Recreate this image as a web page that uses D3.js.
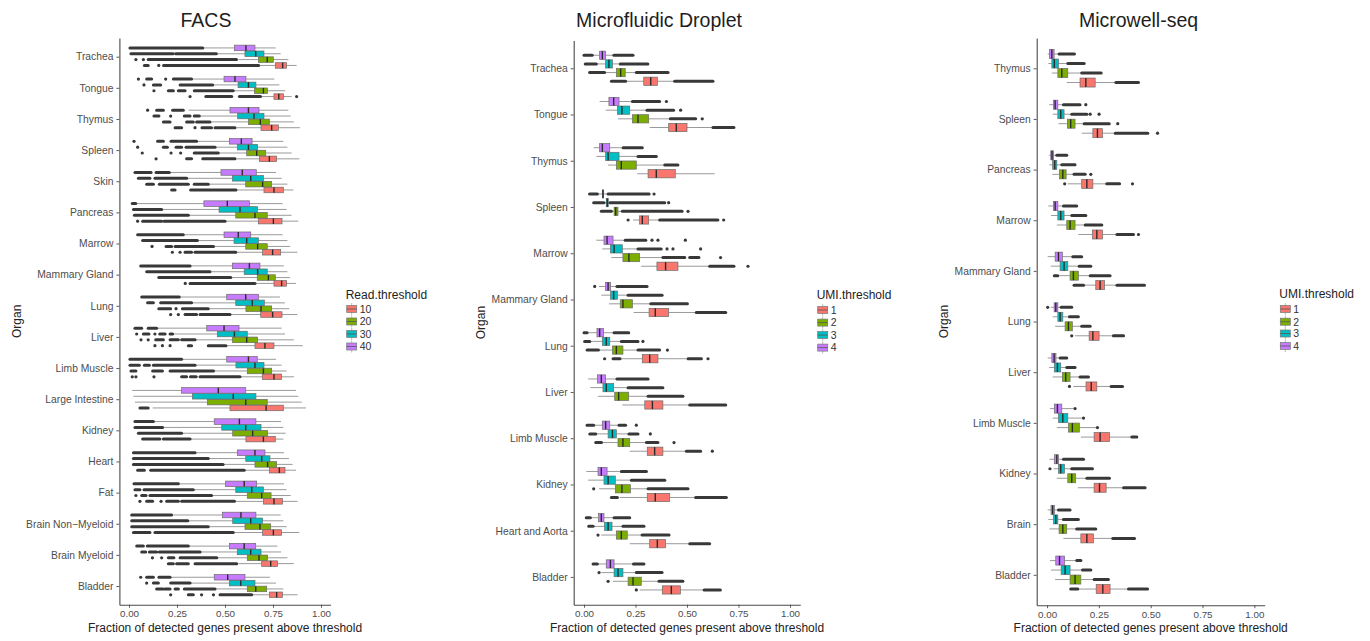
<!DOCTYPE html>
<html><head><meta charset="utf-8">
<script src="https://cdn.jsdelivr.net/npm/d3@7"></script>
<style>body{margin:0;background:#fff}svg{display:block}text{font-family:"Liberation Sans",Arial,sans-serif}</style>
</head><body><svg id="c" width="1370" height="641"></svg>
<script>
// ---------------- DATA ----------------
const xTicks = [0, 0.25, 0.5, 0.75, 1];
const xTitle = "Fraction of detected genes present above threshold";
const yTitle = "Organ";

// ===== FACS (organs top to bottom) =====
const facsOrgans = ["Trachea","Tongue","Thymus","Spleen","Skin","Pancreas","Marrow","Mammary Gland","Lung","Liver","Limb Muscle","Large Intestine","Kidney","Heart","Fat","Brain Non\u2212Myeloid","Brain Myeloid","Bladder"];
const readThresholds = ["10","20","30","40"];
// box stats: [lower whisker, q1, median, q3, upper whisker]
const facs10 = [[0.68,0.762,0.80,0.821,0.873],[0.69,0.755,0.78,0.804,0.847],[0.56,0.6875,0.743,0.778,0.89],[0.56,0.679,0.731,0.769,0.887],[0.56,0.703,0.755,0.804,0.856],[0.50,0.674,0.752,0.797,0.882],[0.56,0.696,0.748,0.79,0.877],[0.66,0.755,0.795,0.821,0.87],[0.53,0.686,0.748,0.797,0.877],[0.51,0.656,0.708,0.755,0.905],[0.58,0.694,0.755,0.795,0.859],[0.123,0.526,0.714,0.804,0.922],[0.32,0.609,0.70,0.762,0.804],[0.60,0.731,0.783,0.8125,0.87],[0.55,0.70,0.755,0.80,0.878],[0.55,0.696,0.752,0.795,0.887],[0.57,0.691,0.738,0.774,0.859],[0.64,0.731,0.769,0.80,0.878]];
const facs20 = [[0.57,0.674,0.72,0.752,0.83],[0.55,0.653,0.70,0.722,0.814],[0.43,0.622,0.684,0.731,0.859],[0.47,0.613,0.665,0.712,0.847],[0.42,0.608,0.696,0.743,0.825],[0.31,0.556,0.656,0.72,0.847],[0.44,0.608,0.67,0.72,0.839],[0.53,0.668,0.726,0.762,0.839],[0.42,0.609,0.6875,0.743,0.835],[0.35,0.538,0.613,0.67,0.859],[0.44,0.616,0.70,0.743,0.821],[0.031,0.408,0.608,0.72,0.90],[0.28,0.54,0.644,0.722,0.816],[0.49,0.656,0.722,0.769,0.852],[0.43,0.616,0.691,0.74,0.842],[0.42,0.604,0.682,0.738,0.821],[0.46,0.616,0.677,0.722,0.825],[0.45,0.616,0.66,0.717,0.804]];
const facs30 = [[0.46,0.604,0.66,0.703,0.79],[0.44,0.568,0.622,0.661,0.783],[0.37,0.566,0.651,0.703,0.842],[0.45,0.564,0.622,0.67,0.825],[0.30,0.538,0.634,0.70,0.795],[0.17,0.469,0.578,0.67,0.821],[0.36,0.547,0.613,0.674,0.825],[0.43,0.60,0.67,0.72,0.825],[0.33,0.556,0.642,0.705,0.8125],[0.23,0.46,0.549,0.616,0.8125],[0.35,0.557,0.656,0.703,0.795],[0.023,0.33,0.543,0.661,0.882],[0.18,0.483,0.608,0.6875,0.804],[0.42,0.608,0.691,0.734,0.833],[0.34,0.556,0.639,0.70,0.821],[0.31,0.54,0.634,0.696,0.804],[0.37,0.564,0.634,0.6875,0.792],[0.32,0.523,0.582,0.656,0.766]];
const facs40 = [[0.39,0.549,0.609,0.656,0.764],[0.33,0.495,0.552,0.609,0.757],[0.31,0.526,0.622,0.677,0.83],[0.36,0.523,0.585,0.641,0.804],[0.21,0.479,0.59,0.663,0.766],[0.04,0.39,0.512,0.627,0.80],[0.29,0.495,0.569,0.634,0.80],[0.32,0.538,0.627,0.682,0.807],[0.27,0.509,0.608,0.674,0.786],[0.15,0.405,0.495,0.573,0.795],[0.28,0.509,0.622,0.668,0.766],[0.017,0.274,0.465,0.608,0.87],[0.13,0.444,0.575,0.661,0.792],[0.35,0.564,0.656,0.708,0.807],[0.26,0.503,0.60,0.665,0.807],[0.23,0.486,0.583,0.661,0.79],[0.31,0.523,0.60,0.66,0.773],[0.22,0.444,0.514,0.604,0.734]];
// outliers: runs of dots [from, to] (a single dot has from == to)
const facsOut10 = [[[0.08,0.10],[0.155,0.155],[0.18,0.675]],[[0.318,0.318],[0.40,0.535],[0.575,0.685],[0.873,0.873]],[[0.24,0.274],[0.344,0.344],[0.38,0.43],[0.448,0.552]],[[0.141,0.141],[0.30,0.326],[0.384,0.552]],[[0.222,0.24],[0.321,0.557]],[[0.045,0.045],[0.071,0.17],[0.182,0.50]],[[0.226,0.226],[0.266,0.266],[0.292,0.326],[0.344,0.556]],[[0.293,0.293],[0.318,0.656]],[[0.217,0.217],[0.257,0.257],[0.292,0.352],[0.37,0.526]],[[0.135,0.135],[0.174,0.174],[0.214,0.214],[0.309,0.326],[0.413,0.505]],[[0.017,0.017],[0.036,0.036],[0.13,0.13],[0.274,0.30],[0.32,0.35],[0.37,0.578]],[[0.057,0.10]],[[0.071,0.161],[0.179,0.318]],[[0.045,0.08],[0.113,0.60]],[[0.057,0.057],[0.092,0.123],[0.167,0.167],[0.196,0.257],[0.274,0.549]],[[0.023,0.109],[0.135,0.543]],[[0.205,0.231],[0.248,0.309],[0.344,0.561]],[[0.217,0.217],[0.309,0.335],[0.378,0.378],[0.44,0.44],[0.474,0.639]]];
const facsOut20 = [[[0.036,0.036],[0.075,0.075],[0.10,0.56]],[[0.13,0.13],[0.205,0.231],[0.257,0.292],[0.34,0.543]],[[0.179,0.214],[0.30,0.335],[0.352,0.422]],[[0.069,0.069],[0.219,0.219],[0.269,0.269],[0.34,0.465]],[[0.092,0.127],[0.158,0.309],[0.34,0.413]],[[0.028,0.309]],[[0.12,0.12],[0.193,0.222],[0.24,0.44]],[[0.155,0.53]],[[0.155,0.217],[0.245,0.245],[0.278,0.413]],[[0.0625,0.0625],[0.10,0.10],[0.139,0.179],[0.214,0.257],[0.274,0.344]],[[0.01,0.036],[0.123,0.174],[0.214,0.44]],[],[[0.049,0.274]],[[0.023,0.49]],[[0.036,0.036],[0.066,0.089],[0.109,0.43]],[[0.014,0.413]],[[0.122,0.122],[0.17,0.17],[0.205,0.234],[0.266,0.457]],[[0.144,0.179],[0.188,0.214],[0.24,0.257],[0.288,0.448]]];
const facsOut30 = [[[0.01,0.23],[0.243,0.455]],[[0.078,0.078],[0.127,0.165],[0.266,0.436]],[[0.13,0.156],[0.217,0.217],[0.288,0.318],[0.34,0.366]],[[0.045,0.045],[0.179,0.2],[0.245,0.274],[0.297,0.448]],[[0.049,0.109],[0.135,0.30]],[[0.023,0.17]],[[0.071,0.356]],[[0.092,0.422]],[[0.097,0.127],[0.165,0.326]],[[0.04,0.04],[0.075,0.104],[0.135,0.135],[0.16,0.188],[0.214,0.227]],[[0.005,0.054],[0.08,0.106],[0.127,0.344]],[],[[0.031,0.175]],[[0.023,0.413]],[[0.031,0.057],[0.078,0.335]],[[0.014,0.306]],[[0.066,0.087],[0.106,0.144],[0.158,0.37]],[[0.092,0.092],[0.127,0.153],[0.217,0.318]]];
const facsOut40 = [[[0.005,0.384]],[[0.049,0.049],[0.092,0.118],[0.191,0.191],[0.231,0.326]],[[0.097,0.097],[0.144,0.179],[0.227,0.283]],[[0.026,0.026],[0.149,0.179],[0.219,0.352]],[[0.031,0.115],[0.141,0.21]],[[0.017,0.035]],[[0.045,0.283]],[[0.061,0.318]],[[0.066,0.262]],[[0.031,0.066],[0.10,0.144]],[[0.005,0.274]],[],[[0.031,0.127]],[[0.023,0.344]],[[0.026,0.257]],[[0.014,0.222]],[[0.04,0.075],[0.095,0.309]],[[0.061,0.061],[0.092,0.127],[0.156,0.214]]];

// ===== Microfluidic Droplet =====
const dropOrgans = ["Trachea","Tongue","Thymus","Spleen","Marrow","Mammary Gland","Lung","Liver","Limb Muscle","Kidney","Heart and Aorta","Bladder"];
const umiThresholds = ["1","2","3","4"];
const drop1 = [[0.205,0.29,0.324,0.356,0.44],[0.319,0.411,0.448,0.50,0.623],[0.259,0.311,0.351,0.443,0.634],[0.238,0.27,0.283,0.314,0.36],[0.278,0.354,0.396,0.456,0.607],[0.241,0.316,0.346,0.411,0.545],[0.181,0.283,0.319,0.359,0.497],[0.186,0.295,0.332,0.383,0.513],[0.222,0.307,0.343,0.383,0.494],[0.173,0.307,0.346,0.416,0.537],[0.222,0.319,0.356,0.396,0.505],[0.27,0.38,0.424,0.468,0.578]];
const drop2 = [[0.105,0.157,0.178,0.20,0.25],[0.165,0.235,0.262,0.314,0.416],[0.117,0.157,0.181,0.254,0.392],[0.135,0.146,0.154,0.165,0.18],[0.133,0.189,0.218,0.27,0.383],[0.121,0.176,0.189,0.235,0.324],[0.073,0.138,0.157,0.189,0.262],[0.068,0.149,0.168,0.217,0.311],[0.089,0.165,0.189,0.222,0.303],[0.073,0.152,0.184,0.225,0.311],[0.084,0.157,0.181,0.21,0.278],[0.14,0.214,0.238,0.278,0.359]];
const drop3 = [[0.065,0.105,0.121,0.138,0.17],[0.105,0.162,0.184,0.222,0.303],[0.06,0.105,0.117,0.17,0.262],[0.10,0.108,0.113,0.118,0.122],[0.089,0.128,0.146,0.186,0.262],[0.084,0.129,0.144,0.162,0.214],[0.031,0.089,0.108,0.125,0.181],[0.031,0.092,0.108,0.144,0.214],[0.06,0.117,0.138,0.157,0.218],[0.02,0.097,0.117,0.152,0.23],[0.047,0.10,0.117,0.136,0.186],[0.084,0.146,0.165,0.189,0.254]];
const drop4 = [[0.045,0.076,0.089,0.105,0.14],[0.076,0.121,0.144,0.17,0.23],[0.047,0.076,0.089,0.125,0.186],[0.068,0.089,0.092,0.095,0.112],[0.06,0.097,0.112,0.141,0.197],[0.073,0.105,0.117,0.129,0.157],[0.02,0.063,0.076,0.095,0.141],[0.02,0.065,0.084,0.105,0.157],[0.052,0.089,0.105,0.125,0.165],[0.011,0.068,0.084,0.112,0.173],[0.036,0.071,0.084,0.097,0.141],[0.068,0.108,0.128,0.146,0.235]];
const dropOut1 = [[[0.133,0.202],[0.44,0.626]],[[0.626,0.728]],[],[[0.214,0.214],[0.367,0.65],[0.678,0.678]],[[0.61,0.728],[0.796,0.796]],[[0.545,0.688]],[[0.10,0.10],[0.141,0.175],[0.505,0.57],[0.602,0.602]],[[0.513,0.688]],[[0.497,0.566],[0.623,0.623]],[[0.133,0.162],[0.542,0.691]],[[0.513,0.61]],[[0.254,0.254],[0.583,0.662]]];
const dropOut2 = [[[0.027,0.10],[0.254,0.408]],[[0.419,0.542],[0.574,0.574]],[[0.392,0.456]],[[0.084,0.133],[0.186,0.476],[0.505,0.505]],[[0.383,0.489],[0.513,0.558],[0.663,0.663]],[[0.324,0.502]],[[0.015,0.07],[0.262,0.367],[0.405,0.405]],[[0.311,0.48]],[[0.057,0.085],[0.303,0.359],[0.437,0.437]],[[0.047,0.047],[0.311,0.505]],[[0.068,0.068],[0.282,0.413]],[[0.117,0.117],[0.364,0.48]]];
const dropOut3 = [[[0.006,0.06],[0.176,0.31]],[[0.306,0.435],[0.469,0.469]],[[0.262,0.351]],[[0.047,0.097],[0.125,0.392],[0.411,0.411]],[[0.262,0.375],[0.403,0.403],[0.432,0.432],[0.566,0.566]],[[0.214,0.379]],[[0.003,0.028],[0.181,0.262],[0.286,0.286]],[[0.214,0.383]],[[0.028,0.057],[0.218,0.262],[0.322,0.322]],[[0.23,0.392]],[[0.023,0.044],[0.189,0.291]],[[0.073,0.073],[0.254,0.379]]];
const dropOut4 = [[[0.0,0.04],[0.145,0.238]],[[0.235,0.367],[0.40,0.40]],[[0.19,0.283]],[[0.027,0.065],[0.117,0.316],[0.34,0.34]],[[0.20,0.30],[0.33,0.33],[0.359,0.359],[0.492,0.492]],[[0.052,0.052],[0.16,0.306]],[[0.0,0.015],[0.146,0.217]],[[0.16,0.311]],[[0.015,0.047],[0.17,0.202],[0.254,0.254]],[[0.181,0.303]],[[0.011,0.031],[0.146,0.222]],[[0.044,0.065],[0.24,0.291]]];

// ===== Microwell-seq =====
const mwOrgans = ["Thymus","Spleen","Pancreas","Marrow","Mammary Gland","Lung","Liver","Limb Muscle","Kidney","Brain","Bladder"];
const mw1 = [[0.095,0.159,0.187,0.232,0.332],[0.167,0.221,0.243,0.267,0.329],[0.10,0.167,0.192,0.221,0.288],[0.151,0.219,0.24,0.267,0.337],[0.18,0.235,0.256,0.277,0.337],[0.135,0.203,0.221,0.251,0.32],[0.127,0.188,0.213,0.24,0.309],[0.163,0.227,0.256,0.301,0.406],[0.148,0.227,0.253,0.285,0.369],[0.079,0.163,0.192,0.224,0.317],[0.15,0.237,0.269,0.304,0.393]];
const mw2 = [[0.023,0.052,0.071,0.10,0.167],[0.055,0.098,0.114,0.135,0.179],[0.026,0.06,0.076,0.092,0.13],[0.047,0.095,0.111,0.135,0.184],[0.06,0.111,0.127,0.151,0.208],[0.039,0.087,0.103,0.122,0.167],[0.027,0.074,0.09,0.111,0.159],[0.047,0.103,0.122,0.156,0.24],[0.047,0.10,0.119,0.138,0.192],[0.011,0.058,0.076,0.095,0.143],[0.039,0.111,0.135,0.163,0.227]];
const mw3 = [[0.006,0.023,0.035,0.055,0.095],[0.027,0.052,0.066,0.082,0.119],[0.011,0.027,0.037,0.047,0.068],[0.019,0.052,0.066,0.082,0.119],[0.018,0.063,0.082,0.10,0.151],[0.027,0.052,0.063,0.076,0.103],[0.01,0.035,0.05,0.066,0.095],[0.027,0.055,0.076,0.10,0.172],[0.031,0.055,0.066,0.084,0.119],[0.006,0.031,0.042,0.052,0.079],[0.019,0.068,0.087,0.111,0.171]];
const mw4 = [[0.003,0.011,0.023,0.034,0.055],[0.011,0.031,0.039,0.052,0.076],[0.01,0.018,0.024,0.031,0.047],[0.006,0.031,0.039,0.052,0.079],[0.003,0.039,0.055,0.074,0.119],[0.018,0.034,0.042,0.052,0.063],[0.003,0.023,0.034,0.043,0.063],[0.014,0.035,0.05,0.071,0.127],[0.011,0.035,0.047,0.055,0.079],[0.003,0.019,0.027,0.035,0.055],[0.014,0.042,0.06,0.084,0.135]];
const mwOut1 = [[[0.332,0.441]],[[0.329,0.486],[0.533,0.533]],[[0.085,0.085],[0.288,0.35],[0.412,0.412]],[[0.337,0.417],[0.441,0.441]],[[0.13,0.176],[0.337,0.47]],[[0.119,0.119],[0.32,0.369]],[[0.108,0.108],[0.309,0.364]],[[0.409,0.433]],[[0.369,0.473]],[[0.317,0.422]],[[0.114,0.148],[0.393,0.485]]];
const mwOut2 = [[[0.167,0.261]],[[0.179,0.30],[0.341,0.341]],[[0.13,0.184],[0.211,0.211]],[[0.184,0.264]],[[0.035,0.052],[0.208,0.304]],[[0.167,0.208]],[[0.159,0.20]],[[0.243,0.243]],[[0.192,0.301]],[[0.143,0.235]],[[0.227,0.296]]];
const mwOut3 = [[[0.10,0.179]],[[0.119,0.192],[0.208,0.208],[0.251,0.251]],[[0.071,0.135]],[[0.119,0.187]],[[0.155,0.211]],[[0.108,0.151]],[[0.095,0.135]],[[0.176,0.176]],[[0.014,0.014],[0.119,0.219]],[[0.079,0.151]],[[0.171,0.211]]];
const mwOut4 = [[[0.058,0.132]],[[0.079,0.159],[0.187,0.187]],[[0.047,0.095]],[[0.079,0.143]],[[0.124,0.167]],[[0.003,0.003],[0.068,0.119]],[[0.063,0.095]],[[0.135,0.135]],[[0.079,0.176]],[[0.055,0.111]],[[0.143,0.163]]];

// ---------------- LAYOUT / STYLE ----------------
const colors = ["#F8766D","#7CAE00","#00BFC4","#C77CFF"];
const panels = [
  {title:"FACS", titleX:206, organs:facsOrgans, levels:readThresholds, legendTitle:"Read.threshold",
   boxes:[facs10,facs20,facs30,facs40], outs:[facsOut10,facsOut20,facsOut30,facsOut40],
   left:119.4, right:330.6, top:38.0, bottom:604.7, orgX:16,
   legX:345.7, legTitleY:299, legY:[309,321.5,334,346.5]},
  {title:"Microfluidic Droplet", titleX:659, organs:dropOrgans, levels:umiThresholds, legendTitle:"UMI.threshold",
   boxes:[drop1,drop2,drop3,drop4], outs:[dropOut1,dropOut2,dropOut3,dropOut4],
   left:573.7, right:800.3, top:40.5, bottom:604.7, orgX:480,
   legX:816.7, legTitleY:299, legY:[310,322.6,335,347.6]},
  {title:"Microwell-seq", titleX:1138.5, organs:mwOrgans, levels:umiThresholds, legendTitle:"UMI.threshold",
   boxes:[mw1,mw2,mw3,mw4], outs:[mwOut1,mwOut2,mwOut3,mwOut4],
   left:1036.7, right:1264.7, top:37.9, bottom:605.2, orgX:943,
   legX:1279.3, legTitleY:298, legY:[309,321.7,333.5,346]}
];

const svg = d3.select("#c");

panels.forEach(p => {
  const g = svg.append("g");
  const x = d3.scaleLinear().domain([-0.05, 1.05]).range([p.left, p.right]);
  const y = d3.scalePoint().domain(p.organs).range([p.top, p.bottom]).padding(0.6);
  const slot = y.step() * 0.1875;
  const bh = slot * 0.95;

  // title
  g.append("text").attr("x", p.titleX).attr("y", 27).attr("text-anchor","middle")
    .attr("font-size", 19.5).attr("fill","#1e1e1e").text(p.title);

  // axes
  const xa = g.append("g").attr("transform", `translate(0,${p.bottom})`)
    .call(d3.axisBottom(x).tickValues(xTicks).tickFormat(d3.format(".2f")).tickSize(3).tickSizeOuter(0).tickPadding(2.5));
  const ya = g.append("g").attr("transform", `translate(${p.left},0)`)
    .call(d3.axisLeft(y).tickSize(3).tickSizeOuter(0).tickPadding(3));
  [xa, ya].forEach(a => {
    a.select(".domain").attr("stroke","#4a4a4a").attr("stroke-width",1.1);
    a.selectAll(".tick line").attr("stroke","#4a4a4a").attr("stroke-width",0.9);
    a.selectAll(".tick text").attr("fill","#4d4d4d").attr("font-size", 10.3)
      .attr("font-family","'Liberation Sans', Arial, sans-serif");
  });
  xa.selectAll(".tick text").attr("font-size", 9.8);

  // axis titles
  g.append("text").attr("x", (p.left + p.right) / 2).attr("y", 632).attr("text-anchor","middle")
    .attr("font-size", 12).attr("fill","#222").text(xTitle);
  g.append("text").attr("transform", `translate(${p.orgX + 4.5},${(p.top + p.bottom) / 2}) rotate(-90)`)
    .attr("text-anchor","middle").attr("font-size", 12).attr("fill","#222").text(yTitle);

  // boxes
  p.boxes.forEach((series, ti) => {
    const off = (1.5 - ti) * slot;
    const gg = g.append("g");
    series.forEach((s, oi) => {
      const yc = y(p.organs[oi]) + off;
      const [lo, q1, med, q3, hi] = s;
      gg.append("line").attr("x1", x(lo)).attr("x2", x(q1)).attr("y1", yc).attr("y2", yc)
        .attr("stroke","#9a9a9a").attr("stroke-width",1);
      gg.append("line").attr("x1", x(q3)).attr("x2", x(hi)).attr("y1", yc).attr("y2", yc)
        .attr("stroke","#9a9a9a").attr("stroke-width",1);
      p.outs[ti][oi].forEach(r => {
        if (r[0] === r[1]) {
          gg.append("circle").attr("cx", x(r[0])).attr("cy", yc).attr("r", 1.6).attr("fill","#383838");
        } else {
          gg.append("line").attr("x1", x(r[0])).attr("x2", x(r[1])).attr("y1", yc).attr("y2", yc)
            .attr("stroke","#383838").attr("stroke-width",3.0).attr("stroke-linecap","round");
        }
      });
      gg.append("rect").attr("x", x(q1)).attr("y", yc - bh / 2).attr("width", x(q3) - x(q1)).attr("height", bh)
        .attr("fill", colors[ti]).attr("stroke","#6b6b6b").attr("stroke-width",0.7);
      gg.append("line").attr("x1", x(med)).attr("x2", x(med)).attr("y1", yc - bh / 2).attr("y2", yc + bh / 2)
        .attr("stroke","#2b2b2b").attr("stroke-width",1.4);
    });
  });

  // legend
  const lg = g.append("g");
  lg.append("text").attr("x", p.legX).attr("y", p.legTitleY).attr("font-size", 12).attr("fill","#222").text(p.legendTitle);
  p.levels.forEach((lv, i) => {
    const yc = p.legY[i], kx = p.legX + 1, kw = 10;
    lg.append("line").attr("x1", kx + kw / 2).attr("x2", kx + kw / 2).attr("y1", yc - 6).attr("y2", yc + 6)
      .attr("stroke","#aaa").attr("stroke-width",0.8);
    lg.append("rect").attr("x", kx).attr("y", yc - 3.5).attr("width", kw).attr("height", 7)
      .attr("fill", colors[i]).attr("stroke","#777").attr("stroke-width",0.7);
    lg.append("line").attr("x1", kx).attr("x2", kx + kw).attr("y1", yc).attr("y2", yc)
      .attr("stroke","#555").attr("stroke-width",0.8);
    lg.append("text").attr("x", kx + kw + 3).attr("y", yc + 3.8).attr("font-size", 10.5).attr("fill","#333").text(lv);
  });
});
</script></body></html>
